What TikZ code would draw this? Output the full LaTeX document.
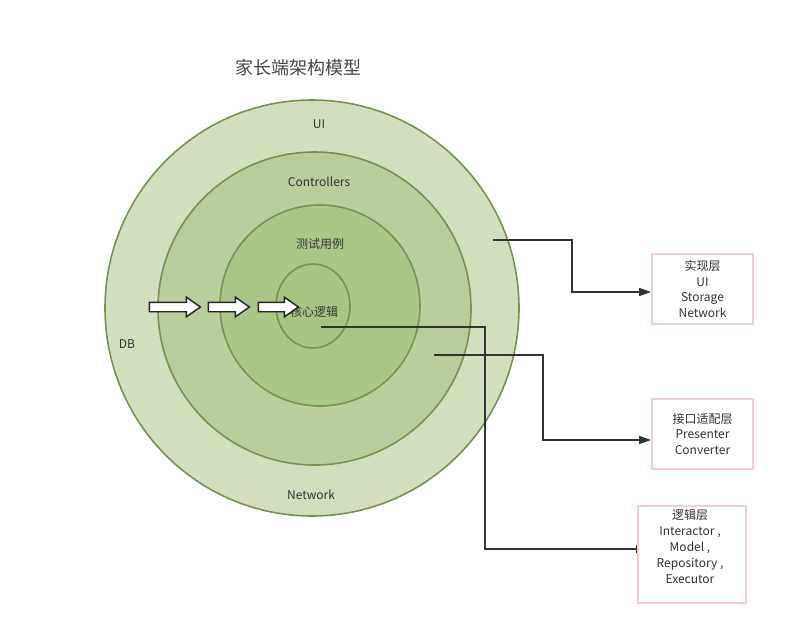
\documentclass[tikz,border=0pt]{standalone}
\usepackage{fontspec}
\setmainfont{Noto Sans CJK SC}
\usetikzlibrary{shapes.geometric,shapes.arrows,arrows.meta}
\definecolor{ringline}{HTML}{759353}
\definecolor{ringA}{HTML}{D2DFBF}
\definecolor{ringB}{HTML}{B9CE9B}
\definecolor{ringC}{HTML}{AAC687}
\definecolor{ringD}{HTML}{A8C483}
\definecolor{boxline}{HTML}{F8CECC}
\definecolor{txt}{HTML}{333333}
\begin{document}
\begin{tikzpicture}[x=0.75pt,y=-0.75pt,
  ring/.style={ellipse,draw=ringline,line width=1.2pt,inner sep=0pt},
  lbl/.style={text=txt,font=\fontsize{9}{11}\selectfont,inner sep=0pt},
  box/.style={draw=boxline,line width=1.3pt,fill=white,align=center,text=txt,inner sep=0pt,font=\fontsize{9}{11.6}\selectfont},
  conn/.style={draw=txt,line width=1.1pt},
  blk/.style={single arrow,draw=black!85,line width=1.1pt,fill=white,inner sep=3pt,single arrow head extend=3.75pt,single arrow tip angle=70}]
\useasboundingbox (0,0) rectangle (785,636);
\node[font=\fontsize{13.5}{16}\selectfont,text=txt!90] (title) at (298,68) {家长端架构模型};
\node[ring,fill=ringA,minimum width=310.5pt,minimum height=312pt] (ui) at (312,308) {};
\node[ring,fill=ringB,minimum width=234.75pt,minimum height=234.75pt] (ctrl) at (314.5,308.5) {};
\node[ring,fill=ringC,minimum width=150pt,minimum height=150.75pt] (test) at (320,305.5) {};
\node[ring,fill=ringD,minimum width=55.5pt,minimum height=63pt] (core) at (313,306) {};
\node[lbl] (uit) at (319,124) {UI};
\node[lbl] (ctrlt) at (319,182) {Controllers};
\node[lbl] (testt) at (320,244) {测试用例};
\node[lbl] (coret) at (314,312) {核心逻辑};
\node[lbl] (dbt) at (127,344) {DB};
\node[lbl] (nett) at (311,495) {Network};
\node[blk,minimum height=38.25pt] (a1) at (171.5,307) {};
\node[blk,minimum height=30.75pt] (a2) at (225.5,307) {};
\node[blk,minimum height=30pt] (a3) at (275,307) {};
\node[box,minimum width=75.75pt,minimum height=52.5pt] (impl) at (702.5,289) {实现层\\UI\\Storage\\Network};
\node[box,minimum width=75.75pt,minimum height=52.5pt] (adapt) at (702.5,434) {接口适配层\\Presenter\\Converter};
\node[box,minimum width=81pt,minimum height=72.75pt] (logic) at (692,554.5) {};
\node[lbl,align=center,font=\fontsize{9}{12}\selectfont] (logict) at (690,547) {逻辑层\\Interactor ,\\Model ,\\Repository ,\\Executor};
\coordinate (c1) at (493,240);
\coordinate (c2) at (434,355);
\coordinate (c3) at (321,327);
\draw[conn,-{Triangle[length=9pt,width=6pt]}] (c1) -- ++(79,0) |- ([yshift=-2.25pt]impl.west);
\draw[conn,-{Triangle[length=9pt,width=6pt]}] (c2) -- ++(109,0) |- ([yshift=-4.5pt]adapt.west);
\draw[conn,-{Bar[width=6pt]}] (c3) -- ++(164,0) |- ([yshift=4.1pt]logic.west);
\end{tikzpicture}
\end{document}
